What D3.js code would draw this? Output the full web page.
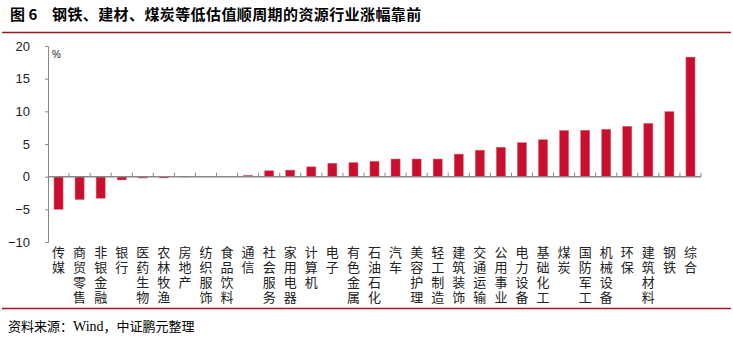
<!DOCTYPE html>
<html><head><meta charset="utf-8">
<script src="https://cdn.jsdelivr.net/npm/d3@7"></script>
<style>
html,body{margin:0;padding:0;background:#fff;}
svg{display:block;}
</style></head>
<body>
<svg id="chart" width="733" height="341"></svg>
<script>
const categories = ["传媒","商贸零售","非银金融","银行","医药生物","农林牧渔","房地产","纺织服饰","食品饮料","通信","社会服务","家用电器","计算机","电子","有色金属","石油石化","汽车","美容护理","轻工制造","建筑装饰","交通运输","公用事业","电力设备","基础化工","煤炭","国防军工","机械设备","环保","建筑材料","钢铁","综合"];
const values = [-5.0,-3.5,-3.3,-0.5,-0.2,-0.2,-0.05,0.0,0.05,0.2,0.9,1.0,1.5,2.05,2.15,2.35,2.7,2.7,2.7,3.45,4.05,4.5,5.2,5.65,7.05,7.1,7.25,7.7,8.15,9.95,18.3];
const yTicks = [-10,-5,0,5,10,15,20];
const titleText = "钢铁、建材、煤炭等低估值顺周期的资源行业涨幅靠前";
const sourceText = ["资料来源：","Wind","，中证鹏元整理"];

(function () {
const svg = d3.select("#chart");
const mLeft = 48, mRight = 701, mTop = 46, mBottom = 242;
const x = d3.scaleBand().domain(categories).range([mLeft, mRight]).paddingInner(0.57).paddingOuter(0.285);
const y = d3.scaleLinear().domain([-10, 20]).range([mBottom, mTop]);

// title
const t = svg.append("text").attr("x", 10).attr("y", 20)
  .attr("font-family", "'Noto Sans CJK SC', sans-serif").attr("font-weight", "bold")
  .attr("font-size", 15).attr("fill", "#000");
t.append("tspan").text("图 6");
t.append("tspan").attr("x", 52).attr("letter-spacing", 0.4).text(titleText);

svg.append("line").attr("x1", 2).attr("x2", 731).attr("y1", 32.5).attr("y2", 32.5)
  .attr("stroke", "#9B1B22").attr("stroke-width", 1.5);
svg.append("line").attr("x1", 2).attr("x2", 731).attr("y1", 308.5).attr("y2", 308.5)
  .attr("stroke", "#9B1B22").attr("stroke-width", 1.5);

// y axis
const yAxis = d3.axisLeft(y).tickValues(yTicks).tickSize(3).tickPadding(15)
  .tickFormat(d => d < 0 ? "\u2212" + Math.abs(d) : d);
const gy = svg.append("g").attr("transform", `translate(${mLeft},0)`).call(yAxis);
gy.select(".domain").attr("stroke", "#888");
gy.selectAll(".tick line").attr("stroke", "#888");
gy.selectAll(".tick text").attr("font-family", "'Liberation Sans', Arial, sans-serif")
  .attr("font-size", 13).attr("fill", "#222");

svg.append("text").attr("x", 52).attr("y", 58).text("%")
  .attr("font-family", "'Liberation Sans', Arial, sans-serif").attr("font-size", 10).attr("fill", "#222");

// bars
svg.append("g").selectAll("rect").data(categories).join("rect")
  .attr("x", d => x(d))
  .attr("width", x.bandwidth())
  .attr("y", (d, i) => y(Math.max(0, values[i])))
  .attr("height", (d, i) => Math.abs(y(values[i]) - y(0)))
  .attr("fill", "#C8102E")
  .attr("stroke", "#E06070").attr("stroke-width", 0.5);

// x axis line + ticks at band boundaries (upward)
const y0 = y(0);
svg.append("line").attr("x1", mLeft).attr("x2", mRight).attr("y1", y0).attr("y2", y0)
  .attr("stroke", "#888").attr("stroke-width", 1.5);
const step = x.step();
svg.append("g").selectAll("line").data(categories).join("line")
  .attr("x1", d => x(d) + x.bandwidth() / 2 + step / 2)
  .attr("x2", d => x(d) + x.bandwidth() / 2 + step / 2)
  .attr("y1", y0).attr("y2", y0 - 4)
  .attr("stroke", "#888").attr("stroke-width", 1);

// x labels, vertical text
svg.append("g").selectAll("text").data(categories).join("text")
  .attr("x", d => x(d) + x.bandwidth() / 2)
  .attr("y", 246)
  .attr("writing-mode", "vertical-rl")
  .style("writing-mode", "vertical-rl")
  .style("text-orientation", "upright")
  .attr("letter-spacing", 1.7)
  .attr("font-family", "'Noto Sans CJK SC', sans-serif").attr("font-size", 13)
  .attr("fill", "#222")
  .text(d => d);

// source
const s = svg.append("text").attr("x", 8).attr("y", 331).attr("font-size", 13).attr("fill", "#000")
  .attr("font-family", "'Noto Sans CJK SC', sans-serif");
s.append("tspan").text(sourceText[0]);
s.append("tspan").attr("font-family", "'Liberation Serif', 'Times New Roman', serif").attr("font-size", 14).text(sourceText[1]);
s.append("tspan").text(sourceText[2]);
})();
</script>
</body></html>
